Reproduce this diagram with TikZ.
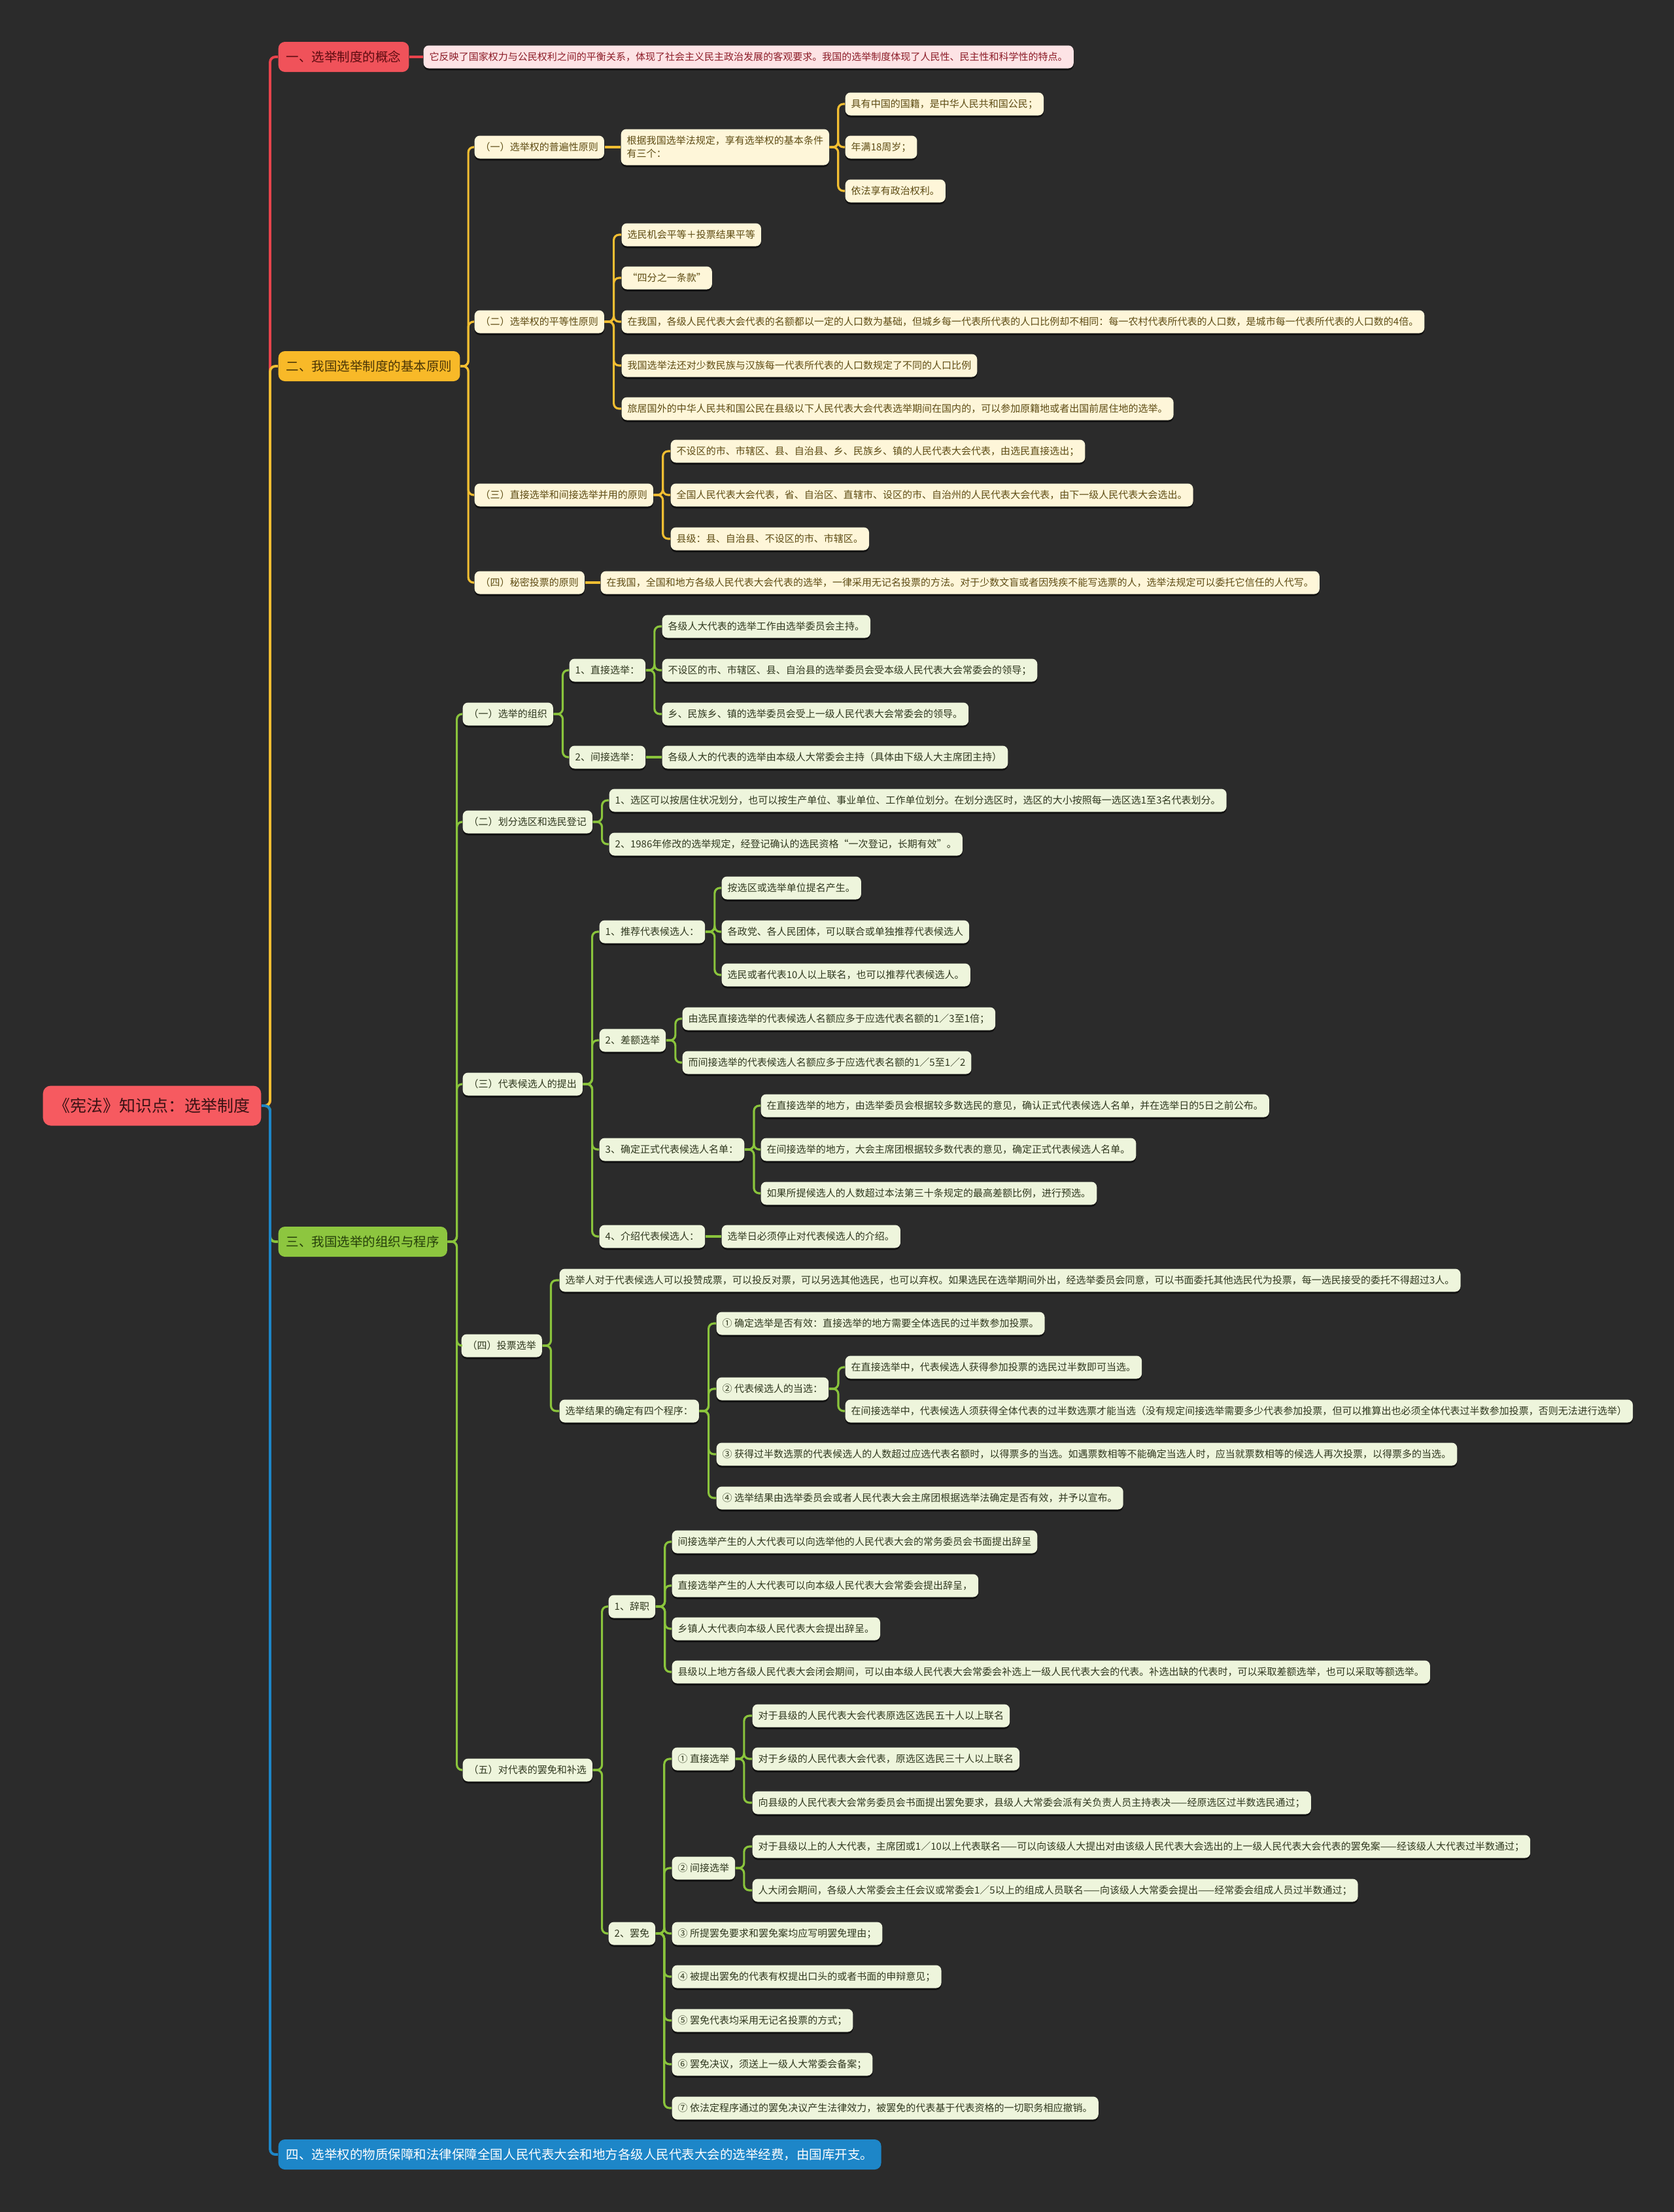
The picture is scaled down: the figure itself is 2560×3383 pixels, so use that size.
\documentclass[tikz,border=0pt]{standalone}
\usepackage{fontspec}
\setmainfont{Noto Sans CJK SC}
\usepackage{xcolor}
\usepackage{tikz}
\usetikzlibrary{shadows}
\definecolor{bgc}{HTML}{2B2B2B}
\definecolor{rootfill}{HTML}{F65A60}
\definecolor{roottext}{HTML}{3A1214}
\definecolor{redfill}{HTML}{F0525A}
\definecolor{redtext}{HTML}{5C0B10}
\definecolor{pinkfill}{HTML}{FDE3E5}
\definecolor{pinktext}{HTML}{8C1C28}
\definecolor{redline}{HTML}{E8434C}
\definecolor{yelfill}{HTML}{F8B928}
\definecolor{yeltext}{HTML}{4A3506}
\definecolor{yelline}{HTML}{F2BE32}
\definecolor{creamfill}{HTML}{FEF6D9}
\definecolor{creamtext}{HTML}{5E4C14}
\definecolor{grnfill}{HTML}{8DC63F}
\definecolor{grntext}{HTML}{26400A}
\definecolor{grnline}{HTML}{8AC43C}
\definecolor{lgrnfill}{HTML}{EEF5DC}
\definecolor{lgrntext}{HTML}{30381F}
\definecolor{bluefill}{HTML}{1D86C8}
\tikzstyle{box} = [rectangle, rounded corners=0.8mm, anchor=west, inner xsep=0.09cm, inner ysep=0.02cm, minimum height=0.35cm, font=\fontsize{4.27pt}{5.7pt}\selectfont, drop shadow={shadow xshift=0mm, shadow yshift=-0.3mm, fill=black, opacity=0.6}]
\tikzstyle{yelbox} = [box, fill=creamfill, text=creamtext]
\tikzstyle{grnbox} = [box, fill=lgrnfill, text=lgrntext]
\tikzstyle{mainbox} = [rectangle, rounded corners=1mm, anchor=west, inner xsep=0.12cm, minimum height=0.46cm, font=\fontsize{5.55pt}{6.5pt}\selectfont]
\tikzstyle{rootbox} = [rectangle, rounded corners=1.2mm, anchor=west, inner xsep=0.17cm, minimum height=0.61cm, font=\fontsize{7.1pt}{8pt}\selectfont, fill=rootfill, text=roottext]
\tikzstyle{redln} = [draw=redline, line width=1.1pt, rounded corners=0.8mm]
\tikzstyle{yelln} = [draw=yelline, line width=0.9pt, rounded corners=0.8mm]
\tikzstyle{grnln} = [draw=grnline, line width=0.9pt, rounded corners=0.8mm]
\tikzstyle{bluln} = [draw=bluefill, line width=1.1pt, rounded corners=0.8mm]

\begin{document}
\begin{tikzpicture}[x=0.01cm, y=-0.01cm]
        \fill [bgc] (0,0) rectangle (2560,3383);

        \node (root) [rootbox] at (65,1691) {《宪法》知识点：选举制度};
        \node (concept) [mainbox, fill=redfill, text=redtext] at (425,87) {一、选举制度的概念};
        \node (basic) [mainbox, fill=yelfill, text=yeltext] at (425,560) {二、我国选举制度的基本原则};
        \node (orgproc) [mainbox, fill=grnfill, text=grntext] at (425,1899) {三、我国选举的组织与程序};
        \node (funds) [mainbox, fill=bluefill, text=white] at (425,3295) {四、选举权的物质保障和法律保障全国人民代表大会和地方各级人民代表大会的选举经费，由国库开支。};

        % 一
        \node (note) [box, fill=pinkfill, text=pinktext] at (647,87) {它反映了国家权力与公民权利之间的平衡关系，体现了社会主义民主政治发展的客观要求。我国的选举制度体现了人民性、民主性和科学性的特点。};

        % 二
        \node (univ) [yelbox] at (725,225) {（一）选举权的普遍性原则};
        \node (cond) [yelbox, align=left, minimum height=0.55cm] at (949,225) {根据我国选举法规定，享有选举权的基本条件\\有三个：};
        \node (nation) [yelbox] at (1292,159) {具有中国的国籍，是中华人民共和国公民；};
        \node (age) [yelbox] at (1292,225) {年满18周岁；};
        \node (polit) [yelbox] at (1292,292) {依法享有政治权利。};
        \node (equal) [yelbox] at (725,492) {（二）选举权的平等性原则};
        \node (eq1) [yelbox] at (950,359) {选民机会平等＋投票结果平等};
        \node (eq2) [yelbox] at (950,425) {“四分之一条款”};
        \node (eq3) [yelbox] at (950,492) {在我国，各级人民代表大会代表的名额都以一定的人口数为基础，但城乡每一代表所代表的人口比例却不相同：每一农村代表所代表的人口数，是城市每一代表所代表的人口数的4倍。};
        \node (eq4) [yelbox] at (950,559) {我国选举法还对少数民族与汉族每一代表所代表的人口数规定了不同的人口比例};
        \node (eq5) [yelbox] at (950,625) {旅居国外的中华人民共和国公民在县级以下人民代表大会代表选举期间在国内的，可以参加原籍地或者出国前居住地的选举。};
        \node (mixed) [yelbox] at (725,757) {（三）直接选举和间接选举并用的原则};
        \node (mx1) [yelbox] at (1025,690) {不设区的市、市辖区、县、自治县、乡、民族乡、镇的人民代表大会代表，由选民直接选出；};
        \node (mx2) [yelbox] at (1025,757) {全国人民代表大会代表，省、自治区、直辖市、设区的市、自治州的人民代表大会代表，由下一级人民代表大会选出。};
        \node (mx3) [yelbox] at (1025,824) {县级：县、自治县、不设区的市、市辖区。};
        \node (secret) [yelbox] at (725,891) {（四）秘密投票的原则};
        \node (sc1) [yelbox] at (918,891) {在我国，全国和地方各级人民代表大会代表的选举，一律采用无记名投票的方法。对于少数文盲或者因残疾不能写选票的人，选举法规定可以委托它信任的人代写。};

        % 三
        \node (org) [grnbox] at (707,1092) {（一）选举的组织};
        \node (direct) [grnbox] at (870,1025) {1、直接选举：};
        \node (d1) [grnbox] at (1012,958) {各级人大代表的选举工作由选举委员会主持。};
        \node (d2) [grnbox] at (1012,1025) {不设区的市、市辖区、县、自治县的选举委员会受本级人民代表大会常委会的领导；};
        \node (d3) [grnbox] at (1012,1092) {乡、民族乡、镇的选举委员会受上一级人民代表大会常委会的领导。};
        \node (indirect) [grnbox] at (870,1158) {2、间接选举：};
        \node (i1) [grnbox] at (1012,1158) {各级人大的代表的选举由本级人大常委会主持（具体由下级人大主席团主持）};
        \node (district) [grnbox] at (707,1257) {（二）划分选区和选民登记};
        \node (dist1) [grnbox] at (931,1224) {1、选区可以按居住状况划分，也可以按生产单位、事业单位、工作单位划分。在划分选区时，选区的大小按照每一选区选1至3名代表划分。};
        \node (dist2) [grnbox] at (931,1291) {2、1986年修改的选举规定，经登记确认的选民资格“一次登记，长期有效”。};
        \node (cand) [grnbox] at (707,1658) {（三）代表候选人的提出};
        \node (nominate) [grnbox] at (916,1425) {1、推荐代表候选人：};
        \node (nm1) [grnbox] at (1103,1358) {按选区或选举单位提名产生。};
        \node (nm2) [grnbox] at (1103,1425) {各政党、各人民团体，可以联合或单独推荐代表候选人};
        \node (nm3) [grnbox] at (1103,1491) {选民或者代表10人以上联名，也可以推荐代表候选人。};
        \node (margin) [grnbox] at (916,1591) {2、差额选举};
        \node (mg1) [grnbox] at (1043,1558) {由选民直接选举的代表候选人名额应多于应选代表名额的1／3至1倍；};
        \node (mg2) [grnbox] at (1043,1625) {而间接选举的代表候选人名额应多于应选代表名额的1／5至1／2};
        \node (confirm) [grnbox] at (916,1758) {3、确定正式代表候选人名单：};
        \node (cf1) [grnbox] at (1163,1691) {在直接选举的地方，由选举委员会根据较多数选民的意见，确认正式代表候选人名单，并在选举日的5日之前公布。};
        \node (cf2) [grnbox] at (1163,1758) {在间接选举的地方，大会主席团根据较多数代表的意见，确定正式代表候选人名单。};
        \node (cf3) [grnbox] at (1163,1825) {如果所提候选人的人数超过本法第三十条规定的最高差额比例，进行预选。};
        \node (intro) [grnbox] at (916,1891) {4、介绍代表候选人：};
        \node (in1) [grnbox] at (1103,1891) {选举日必须停止对代表候选人的介绍。};
        \node (vote) [grnbox] at (705,2058) {（四）投票选举};
        \node (vt1) [grnbox] at (855,1958) {选举人对于代表候选人可以投赞成票，可以投反对票，可以另选其他选民，也可以弃权。如果选民在选举期间外出，经选举委员会同意，可以书面委托其他选民代为投票，每一选民接受的委托不得超过3人。};
        \node (vt2) [grnbox] at (855,2158) {选举结果的确定有四个程序：};
        \node (r1) [grnbox] at (1095,2024) {① 确定选举是否有效：直接选举的地方需要全体选民的过半数参加投票。};
        \node (r2) [grnbox] at (1095,2124) {② 代表候选人的当选：};
        \node (r2a) [grnbox] at (1292,2091) {在直接选举中，代表候选人获得参加投票的选民过半数即可当选。};
        \node (r2b) [grnbox] at (1292,2158) {在间接选举中，代表候选人须获得全体代表的过半数选票才能当选（没有规定间接选举需要多少代表参加投票，但可以推算出也必须全体代表过半数参加投票，否则无法进行选举）};
        \node (r3) [grnbox] at (1095,2224) {③ 获得过半数选票的代表候选人的人数超过应选代表名额时，以得票多的当选。如遇票数相等不能确定当选人时，应当就票数相等的候选人再次投票，以得票多的当选。};
        \node (r4) [grnbox] at (1095,2291) {④ 选举结果由选举委员会或者人民代表大会主席团根据选举法确定是否有效，并予以宣布。};
        \node (recall) [grnbox] at (707,2707) {（五）对代表的罢免和补选};
        \node (resign) [grnbox] at (930,2457) {1、辞职};
        \node (rs1) [grnbox] at (1027,2358) {间接选举产生的人大代表可以向选举他的人民代表大会的常务委员会书面提出辞呈};
        \node (rs2) [grnbox] at (1027,2425) {直接选举产生的人大代表可以向本级人民代表大会常委会提出辞呈，};
        \node (rs3) [grnbox] at (1027,2491) {乡镇人大代表向本级人民代表大会提出辞呈。};
        \node (rs4) [grnbox] at (1027,2557) {县级以上地方各级人民代表大会闭会期间，可以由本级人民代表大会常委会补选上一级人民代表大会的代表。补选出缺的代表时，可以采取差额选举，也可以采取等额选举。};
        \node (dismiss) [grnbox] at (930,2957) {2、罢免};
        \node (rd) [grnbox] at (1027,2690) {① 直接选举};
        \node (rd1) [grnbox] at (1150,2624) {对于县级的人民代表大会代表原选区选民五十人以上联名};
        \node (rd2) [grnbox] at (1150,2690) {对于乡级的人民代表大会代表，原选区选民三十人以上联名};
        \node (rd3) [grnbox] at (1150,2757) {向县级的人民代表大会常务委员会书面提出罢免要求，县级人大常委会派有关负责人员主持表决——经原选区过半数选民通过；};
        \node (ri) [grnbox] at (1027,2857) {② 间接选举};
        \node (ri1) [grnbox] at (1150,2824) {对于县级以上的人大代表，主席团或1／10以上代表联名——可以向该级人大提出对由该级人民代表大会选出的上一级人民代表大会代表的罢免案——经该级人大代表过半数通过；};
        \node (ri2) [grnbox] at (1150,2891) {人大闭会期间，各级人大常委会主任会议或常委会1／5以上的组成人员联名——向该级人大常委会提出——经常委会组成人员过半数通过；};
        \node (rm3) [grnbox] at (1027,2957) {③ 所提罢免要求和罢免案均应写明罢免理由；};
        \node (rm4) [grnbox] at (1027,3023) {④ 被提出罢免的代表有权提出口头的或者书面的申辩意见；};
        \node (rm5) [grnbox] at (1027,3090) {⑤ 罢免代表均采用无记名投票的方式；};
        \node (rm6) [grnbox] at (1027,3157) {⑥ 罢免决议，须送上一级人大常委会备案；};
        \node (rm7) [grnbox] at (1027,3224) {⑦ 依法定程序通过的罢免决议产生法律效力，被罢免的代表基于代表资格的一切职务相应撤销。};

        % trunk
        \draw [redln] (root.east) -- ++(13,0) |- (concept.west);
        \draw [yelln, line width=1.1pt] (root.east) -- ++(13,0) |- (basic.west);
        \draw [grnln, line width=1.1pt] (root.east) -- ++(13,0) |- (orgproc.west);
        \draw [bluln] (root.east) -- ++(13,0) |- (funds.west);

        \draw [redln, line width=0.9pt] (concept.east) -- (note.west);

        \draw [yelln] (basic.east) -- ++(12,0) |- (univ.west);
        \draw [yelln] (basic.east) -- ++(12,0) |- (equal.west);
        \draw [yelln] (basic.east) -- ++(12,0) |- (mixed.west);
        \draw [yelln] (basic.east) -- ++(12,0) |- (secret.west);
        \draw [yelln] (univ.east) -- (cond.west);
        \draw [yelln] (cond.east) -- ++(13,0) |- (nation.west);
        \draw [yelln] (cond.east) -- ++(13,0) |- (age.west);
        \draw [yelln] (cond.east) -- ++(13,0) |- (polit.west);
        \draw [yelln] (equal.east) -- ++(14,0) |- (eq1.west);
        \draw [yelln] (equal.east) -- ++(14,0) |- (eq2.west);
        \draw [yelln] (equal.east) -- ++(14,0) |- (eq3.west);
        \draw [yelln] (equal.east) -- ++(14,0) |- (eq4.west);
        \draw [yelln] (equal.east) -- ++(14,0) |- (eq5.west);
        \draw [yelln] (mixed.east) -- ++(14,0) |- (mx1.west);
        \draw [yelln] (mixed.east) -- ++(14,0) |- (mx2.west);
        \draw [yelln] (mixed.east) -- ++(14,0) |- (mx3.west);
        \draw [yelln] (secret.east) -- (sc1.west);

        \draw [grnln] (orgproc.east) -- ++(14,0) |- (org.west);
        \draw [grnln] (orgproc.east) -- ++(14,0) |- (district.west);
        \draw [grnln] (orgproc.east) -- ++(14,0) |- (cand.west);
        \draw [grnln] (orgproc.east) -- ++(14,0) |- (vote.west);
        \draw [grnln] (orgproc.east) -- ++(14,0) |- (recall.west);
        \draw [grnln] (org.east) -- ++(14,0) |- (direct.west);
        \draw [grnln] (org.east) -- ++(14,0) |- (indirect.west);
        \draw [grnln] (direct.east) -- ++(13,0) |- (d1.west);
        \draw [grnln] (direct.east) -- ++(13,0) |- (d2.west);
        \draw [grnln] (direct.east) -- ++(13,0) |- (d3.west);
        \draw [grnln] (indirect.east) -- (i1.west);
        \draw [grnln] (district.east) -- ++(14,0) |- (dist1.west);
        \draw [grnln] (district.east) -- ++(14,0) |- (dist2.west);
        \draw [grnln] (cand.east) -- ++(14,0) |- (nominate.west);
        \draw [grnln] (cand.east) -- ++(14,0) |- (margin.west);
        \draw [grnln] (cand.east) -- ++(14,0) |- (confirm.west);
        \draw [grnln] (cand.east) -- ++(14,0) |- (intro.west);
        \draw [grnln] (nominate.east) -- ++(14,0) |- (nm1.west);
        \draw [grnln] (nominate.east) -- ++(14,0) |- (nm2.west);
        \draw [grnln] (nominate.east) -- ++(14,0) |- (nm3.west);
        \draw [grnln] (margin.east) -- ++(14,0) |- (mg1.west);
        \draw [grnln] (margin.east) -- ++(14,0) |- (mg2.west);
        \draw [grnln] (confirm.east) -- ++(14,0) |- (cf1.west);
        \draw [grnln] (confirm.east) -- ++(14,0) |- (cf2.west);
        \draw [grnln] (confirm.east) -- ++(14,0) |- (cf3.west);
        \draw [grnln] (intro.east) -- (in1.west);
        \draw [grnln] (vote.east) -- ++(13,0) |- (vt1.west);
        \draw [grnln] (vote.east) -- ++(13,0) |- (vt2.west);
        \draw [grnln] (vt2.east) -- ++(14,0) |- (r1.west);
        \draw [grnln] (vt2.east) -- ++(14,0) |- (r2.west);
        \draw [grnln] (vt2.east) -- ++(14,0) |- (r3.west);
        \draw [grnln] (vt2.east) -- ++(14,0) |- (r4.west);
        \draw [grnln] (r2.east) -- ++(14,0) |- (r2a.west);
        \draw [grnln] (r2.east) -- ++(14,0) |- (r2b.west);
        \draw [grnln] (recall.east) -- ++(14,0) |- (resign.west);
        \draw [grnln] (recall.east) -- ++(14,0) |- (dismiss.west);
        \draw [grnln] (resign.east) -- ++(14,0) |- (rs1.west);
        \draw [grnln] (resign.east) -- ++(14,0) |- (rs2.west);
        \draw [grnln] (resign.east) -- ++(14,0) |- (rs3.west);
        \draw [grnln] (resign.east) -- ++(14,0) |- (rs4.west);
        \draw [grnln] (dismiss.east) -- ++(13,0) |- (rd.west);
        \draw [grnln] (dismiss.east) -- ++(13,0) |- (ri.west);
        \draw [grnln] (dismiss.east) -- ++(13,0) |- (rm3.west);
        \draw [grnln] (dismiss.east) -- ++(13,0) |- (rm4.west);
        \draw [grnln] (dismiss.east) -- ++(13,0) |- (rm5.west);
        \draw [grnln] (dismiss.east) -- ++(13,0) |- (rm6.west);
        \draw [grnln] (dismiss.east) -- ++(13,0) |- (rm7.west);
        \draw [grnln] (rd.east) -- ++(13,0) |- (rd1.west);
        \draw [grnln] (rd.east) -- ++(13,0) |- (rd2.west);
        \draw [grnln] (rd.east) -- ++(13,0) |- (rd3.west);
        \draw [grnln] (ri.east) -- ++(13,0) |- (ri1.west);
        \draw [grnln] (ri.east) -- ++(13,0) |- (ri2.west);
    \end{tikzpicture}
\end{document}
